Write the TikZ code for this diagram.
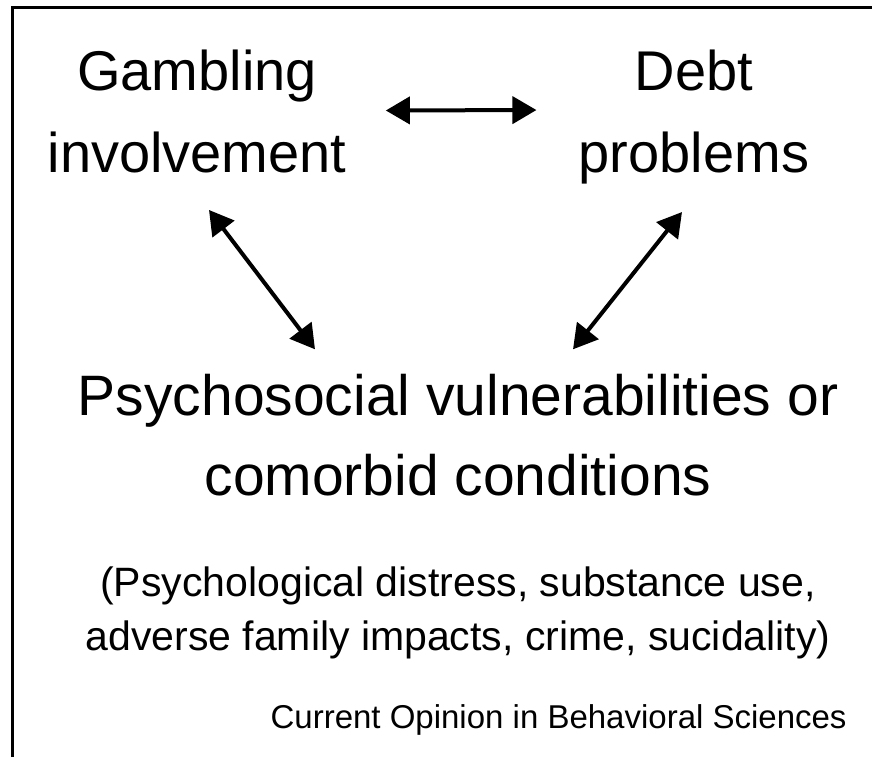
\documentclass[tikz,border=0pt]{standalone}
\usepackage{fontspec}
\setmainfont{Liberation Sans}
\usetikzlibrary{arrows.meta,calc}

\begin{document}
\begin{tikzpicture}[x=.5pt,y=-.5pt,>={Triangle[length=12pt,width=13.5pt]}]
    \def\fsTop{\fontsize{28}{41}\selectfont}
    \def\fsMain{\fontsize{28.5}{40}\selectfont}
    \def\fsSub{\fontsize{20.5}{27}\selectfont}
    \tikzset{
      lbl/.style={anchor=base,align=center,inner sep=0pt},
      dbl/.style={<->,line width=2pt}
    }
    \useasboundingbox (0,0) rectangle (872,757);
    % frame, only left and top edges are visible
    \draw[line width=1.5pt] (12.5,757) |- (872,7.5);

    % base is the baseline of the last line
    \node (gamb) [lbl,font=\fsTop] at (197,172) {Gambling\\involvement};
    \node (debt) [lbl,font=\fsTop] at (694,172) {Debt\\problems};
    \node (psy) [lbl,font=\fsMain] at (458,495) {Psychosocial vulnerabilities or\\comorbid conditions};
    \node (ex) [lbl,font=\fsSub] at (458,650) {(Psychological distress, substance use,\\adverse family impacts, crime, sucidality)};
    \node (src) [anchor=base east,inner sep=0pt,font=\fontsize{16.5}{20}\selectfont] at (847,728) {Current Opinion in Behavioral Sciences};

    \draw[dbl] ($(gamb.east)+(39,-0.5)$) -- ($(debt.west)+(-42,-6.5)$);
    \draw[dbl] ($(gamb.south)+(12,37)$) -- ($(psy.north)+(-143,-24)$);
    \draw[dbl] ($(debt.south)+(-12,28)$) -- ($(psy.north)+(115,-24)$);
  \end{tikzpicture}
\end{document}
